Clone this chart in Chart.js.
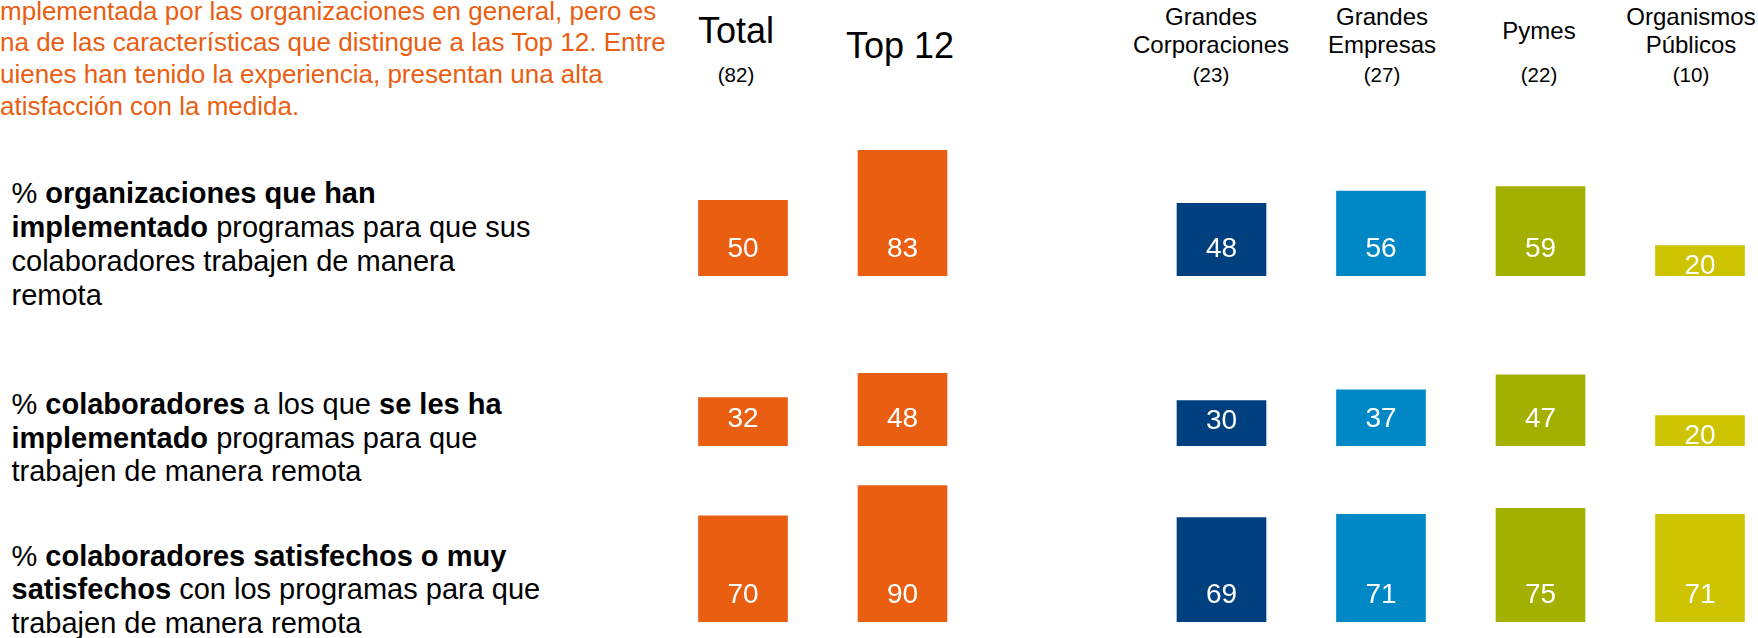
<!DOCTYPE html>
<html>
<head>
<meta charset="utf-8">
<script src="https://cdn.jsdelivr.net/npm/chart.js@4.4.1/dist/chart.umd.min.js"></script>
<style>
  html, body { margin: 0; padding: 0; background: #fff; }
  body { width: 1758px; height: 638px; overflow: hidden; position: relative;
         font-family: "Liberation Sans", Arial, sans-serif; color: #000; }
  .t { position: absolute; white-space: nowrap; }
  .c { transform: translateX(-50%); text-align: center; }
  canvas { position: absolute; left: 0; }
</style>
</head>
<body>
<script>
// ---- data ----
const columnNames = [['Total'], ['Top 12'], ['Grandes', 'Corporaciones'], ['Grandes', 'Empresas'], ['Pymes'], ['Organismos', 'Públicos']];
const sampleSizes = ['(82)', '', '(23)', '(27)', '(22)', '(10)'];
const orgsImplemented  = [50, 83, 48, 56, 59, 20];
const staffImplemented = [32, 48, 30, 37, 47, 20];
const staffSatisfied   = [70, 90, 69, 71, 75, 71];
const columnColors = ['#E95E10', '#E95E10', '#00407F', '#0087C6', '#A3B000', '#CDC300'];

const introLines = [
  'implementada por las organizaciones en general, pero es',
  'una de las características que distingue a las Top 12. Entre',
  'quienes han tenido la experiencia, presentan una alta',
  'satisfacción con la medida.'
];
const rowLabels = [
  ['% <b>organizaciones que han</b>', '<b>implementado</b> programas para que sus', 'colaboradores trabajen de manera', 'remota'],
  ['% <b>colaboradores</b> a los que <b>se les ha</b>', '<b>implementado</b> programas para que', 'trabajen de manera remota'],
  ['% <b>colaboradores satisfechos o muy</b>', '<b>satisfechos</b> con los programas para que', 'trabajen de manera remota']
];

// ---- layout ----
const FONT = '"Liberation Sans", Arial, sans-serif';
const ORANGE = '#E95E10';
const UNIT_PX = 1.515;          // pixels per percentage point
const ROW_H = 160;              // canvas height of each bar row
const rowBases = [276, 446, 622];
const firstCenter = 743, slotW = 159.5, pageW = 1758;
const headerCenters = [736, 900, 1211, 1382, 1539, 1691];

// gap slot between "Top 12" and the company-size columns
const slotOf = i => (i < 2 ? i : i + 1);

// place a text element so that its first baseline lands at `baseline`
function addText(html, x, baseline, size, opts = {}) {
  const d = document.createElement('div');
  d.className = 't' + (opts.center ? ' c' : '');
  d.style.left = x + 'px';
  d.style.top = (baseline - 0.8465 * size) + 'px';
  d.style.fontSize = size + 'px';
  d.style.lineHeight = size + 'px';
  if (opts.color) d.style.color = opts.color;
  d.innerHTML = html;
  document.body.appendChild(d);
  return d;
}

// intro paragraph (runs off the left edge)
const mctx = document.createElement('canvas').getContext('2d');
mctx.font = '26px ' + FONT;
introLines.forEach((line, k) => {
  const lead = mctx.measureText(line[0]).width;
  addText(line, -lead, 19.5 + 31.9 * k, 26, { color: ORANGE });
});

// row descriptions
const rowTextBase = [[203.3, 34.2], [415, 33.4], [566.7, 33.3]];
rowLabels.forEach((lines, r) => {
  lines.forEach((ln, k) => addText(ln, 11.5, rowTextBase[r][0] + rowTextBase[r][1] * k, 29));
});

// column headers
addText(columnNames[0][0], headerCenters[0], 43, 36, { center: true });
addText(columnNames[1][0], headerCenters[1], 58, 36, { center: true });
for (let i = 2; i < columnNames.length; i++) {
  const n = columnNames[i];
  if (n.length === 2) {
    addText(n[0], headerCenters[i], 25.3, 24, { center: true });
    addText(n[1], headerCenters[i], 53.3, 24, { center: true });
  } else {
    addText(n[0], headerCenters[i], 39, 24, { center: true });
  }
}
sampleSizes.forEach((s, i) => { if (s) addText(s, headerCenters[i], 82.5, 20.5, { center: true }); });

// value labels inside each bar, near its base
const valueLabels = {
  id: 'valueLabels',
  afterDatasetsDraw(chart) {
    const ctx = chart.ctx;
    const ds = chart.data.datasets[0];
    const size = 28, capH = size * 0.716;
    ctx.save();
    ctx.font = size + 'px ' + FONT;
    ctx.fillStyle = '#ffffff';
    ctx.textAlign = 'center';
    ctx.textBaseline = 'alphabetic';
    chart.getDatasetMeta(0).data.forEach((bar, i) => {
      let y = bar.base - 18.8;
      if (y - capH < bar.y + 8.5) y = bar.y + 8.5 + capH;
      ctx.fillText(String(ds.data[i].y), bar.x, y);
    });
    ctx.restore();
  }
};

function drawRow(values, base) {
  const cv = document.createElement('canvas');
  cv.width = pageW; cv.height = ROW_H;
  cv.style.top = (base - ROW_H) + 'px';
  document.body.appendChild(cv);
  new Chart(cv, {
    type: 'bar',
    data: {
      datasets: [{
        data: values.map((v, i) => ({ x: slotOf(i), y: v })),
        backgroundColor: columnColors,
        borderWidth: 0,
        barThickness: 89
      }]
    },
    options: {
      responsive: false,
      animation: false,
      devicePixelRatio: 1,
      layout: { padding: 0 },
      plugins: { legend: { display: false }, tooltip: { enabled: false } },
      scales: {
        x: { type: 'linear', display: false, offset: false,
             min: -firstCenter / slotW, max: (pageW - firstCenter) / slotW },
        y: { display: false, min: 0, max: ROW_H / UNIT_PX }
      }
    },
    plugins: [valueLabels]
  });
}

drawRow(orgsImplemented, rowBases[0]);
drawRow(staffImplemented, rowBases[1]);
drawRow(staffSatisfied, rowBases[2]);
</script>
</body>
</html>
